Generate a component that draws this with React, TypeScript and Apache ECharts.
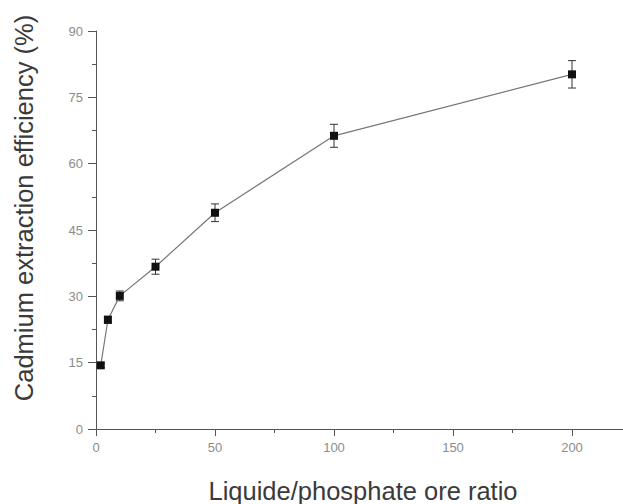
import React, { useEffect, useRef } from "react";
import * as echarts from "echarts";

const ratios = [2, 5, 10, 25, 50, 100, 200];
const efficiency = [14.4, 24.7, 30.1, 36.7, 48.9, 66.3, 80.2];
const errors = [0.5, 0.8, 1.1, 1.7, 2.0, 2.6, 3.1];
const xTitle = "Liquide/phosphate ore ratio";
const yTitle = "Cadmium extraction efficiency (%)";

export default function App() {
  const ref = useRef<HTMLDivElement>(null);
  useEffect(() => {
    if (!ref.current) return;
    const chart = echarts.init(ref.current, undefined, { renderer: "svg" });
    const points = ratios.map((x, i) => [x, efficiency[i]]);
    const errData = ratios.map((x, i) => [x, efficiency[i], errors[i]]);
    const font = "'Liberation Sans', Arial, sans-serif";
    chart.setOption({
      animation: false,
      backgroundColor: "#ffffff",
      grid: { left: 96, top: 31, width: 595, height: 398, outerBoundsMode: "none", containLabel: false },
      xAxis: {
        type: "value",
        min: 0,
        max: 250,
        interval: 50,
        axisLine: { show: true, onZero: false, lineStyle: { color: "#555", width: 1 } },
        axisTick: { show: true, inside: false, length: 7, lineStyle: { color: "#555" } },
        minorTick: { show: true, splitNumber: 2, length: 4, lineStyle: { color: "#555" } },
        splitLine: { show: false },
        axisLabel: {
          color: "#8c8c8c",
          fontSize: 13,
          fontFamily: font,
          margin: 12,
          showMaxLabel: false,
          formatter: (v: number) => (v > 200 ? "" : String(v)),
        },
      },
      yAxis: {
        type: "value",
        min: 0,
        max: 90,
        interval: 15,
        axisLine: { show: true, lineStyle: { color: "#555", width: 1 } },
        axisTick: { show: true, inside: false, length: 8, lineStyle: { color: "#555" } },
        minorTick: { show: true, splitNumber: 2, length: 4, lineStyle: { color: "#555" } },
        splitLine: { show: false },
        axisLabel: { color: "#8c8c8c", fontSize: 13, fontFamily: font, margin: 13 },
      },
      graphic: [
        {
          type: "text",
          x: 363,
          y: 491,
          style: {
            text: xTitle,
            fill: "#3a3a3a",
            font: `25.5px ${font}`,
            align: "center",
            verticalAlign: "middle",
          },
        },
        {
          type: "text",
          x: 24,
          y: 208,
          rotation: Math.PI / 2,
          style: {
            text: yTitle,
            fill: "#3a3a3a",
            font: `25.5px ${font}`,
            align: "center",
            verticalAlign: "middle",
          },
        },
      ],
      series: [
        {
          type: "custom",
          data: errData,
          encode: { x: 0, y: 1 },
          z: 2,
          renderItem: (params: any, api: any) => {
            const x = api.value(0);
            const y = api.value(1);
            const e = api.value(2);
            const top = api.coord([x, y + e]);
            const bot = api.coord([x, y - e]);
            const cap = 4;
            const st = { stroke: "#333", lineWidth: 1 };
            return {
              type: "group",
              children: [
                { type: "line", shape: { x1: top[0], y1: top[1], x2: bot[0], y2: bot[1] }, style: st },
                { type: "line", shape: { x1: top[0] - cap, y1: top[1], x2: top[0] + cap, y2: top[1] }, style: st },
                { type: "line", shape: { x1: bot[0] - cap, y1: bot[1], x2: bot[0] + cap, y2: bot[1] }, style: st },
              ],
            };
          },
        },
        {
          type: "line",
          data: points,
          z: 3,
          symbol: "rect",
          symbolSize: 8,
          itemStyle: { color: "#111" },
          lineStyle: { color: "#777", width: 1.2 },
        },
      ],
    });
    return () => chart.dispose();
  }, []);
  return (
    <div
      ref={ref}
      style={{ position: "fixed", left: 0, top: 0, width: 623, height: 504, background: "#fff" }}
    />
  );
}
